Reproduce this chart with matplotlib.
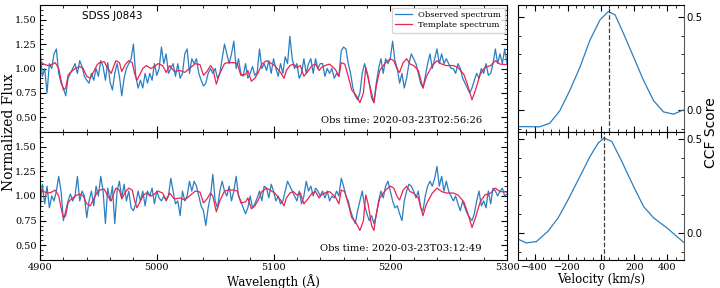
import numpy as np
import matplotlib
matplotlib.use("Agg")
import matplotlib.pyplot as plt
from matplotlib.ticker import MultipleLocator

plt.rcParams['font.family'] = ['DejaVu Serif']
plt.rcParams['mathtext.fontset'] = 'dejavuserif'

# ---------- data ----------
wave_obs = np.arange(4900, 5301, 2)

flux_obs1 = [
    1.20, 0.92, 1.00, 0.75, 1.05, 1.00, 1.15, 1.20, 0.95, 0.85,
    0.80, 0.72, 0.90, 0.95, 1.00, 1.05, 0.95, 1.08, 1.02, 0.92,
    0.88, 0.85, 0.95, 0.88, 1.00, 0.92, 1.08, 1.02, 0.88, 1.06,
    0.86, 0.78, 0.95, 1.05, 0.92, 0.72, 0.90, 1.00, 1.05, 1.10,
    1.25, 0.92, 0.80, 0.88, 0.80, 0.95, 0.85, 0.95, 0.88, 1.05,
    0.93, 1.00, 1.22, 1.05, 1.15, 0.95, 1.00, 1.05, 0.92, 1.05,
    0.90, 0.95, 1.15, 1.20, 0.95, 1.10, 1.05, 1.10, 0.95, 0.88,
    0.82, 0.85, 0.95, 1.00, 0.95, 1.00, 0.90, 0.95, 1.10, 1.25,
    1.15, 1.05, 1.15, 1.28, 1.00, 1.10, 0.95, 0.92, 1.05, 0.90,
    0.95, 1.02, 0.93, 0.96, 1.20, 1.00, 1.05, 0.98, 1.08, 0.95,
    1.10, 1.00, 0.92, 1.05, 0.95, 1.12, 1.05, 1.33, 1.10, 1.00,
    1.05, 0.90, 0.95, 1.10, 0.95, 1.05, 1.10, 0.95, 1.10, 1.00,
    1.05, 1.05, 0.92, 1.00, 0.95, 1.00, 0.90, 0.95, 0.92, 1.18,
    1.22, 1.20, 1.05, 0.95, 0.80, 0.72, 0.68, 0.75, 0.95, 1.05,
    0.95, 0.85, 0.75, 0.65, 0.85, 1.00, 1.10, 0.95, 1.10, 1.05,
    1.10, 1.28, 1.08, 1.00, 0.85, 0.95, 0.80, 0.90, 1.05, 1.15,
    1.10, 1.05, 0.95, 0.85, 0.80, 0.92, 1.05, 1.15, 1.00, 1.10,
    1.20, 1.05, 1.15, 1.05, 1.10, 1.05, 1.00, 1.00, 0.95, 1.05,
    1.00, 0.90, 0.85, 0.80, 0.75, 0.80, 0.88, 0.95, 0.90, 1.00,
    0.95, 1.05, 0.93, 0.95, 1.05, 1.20, 1.05, 1.15, 1.05, 1.20,
    1.05,
]

flux_obs2 = [
    0.85, 1.12, 0.92, 1.10, 0.88, 1.00, 0.95, 1.05, 1.20, 1.05,
    0.75, 0.85, 0.95, 1.02, 0.95, 1.00, 1.20, 0.95, 1.05, 1.00,
    0.78, 0.95, 1.05, 0.90, 1.10, 1.00, 1.20, 1.05, 0.72, 1.08,
    0.95, 1.10, 0.72, 1.05, 1.15, 0.98, 1.12, 0.95, 1.05, 0.88,
    0.85, 0.92, 1.05, 0.95, 1.05, 0.90, 1.05, 1.00, 1.08, 0.92,
    1.05, 0.98, 0.95, 1.00, 0.95, 1.00, 1.18, 1.05, 0.92, 0.95,
    0.80, 1.05, 0.95, 1.00, 1.15, 1.05, 1.15, 1.10, 1.00, 0.90,
    0.85, 0.70, 0.88, 1.00, 1.22, 0.95, 0.88, 1.05, 1.15, 1.05,
    1.00, 1.10, 0.95, 1.05, 1.20, 1.00, 0.95, 0.88, 0.82, 0.88,
    1.00, 0.88, 0.92, 0.98, 1.05, 0.95, 1.10, 1.08, 0.98, 1.12,
    1.05, 0.95, 1.00, 0.92, 0.95, 1.05, 1.15, 1.10, 1.05, 1.00,
    0.95, 1.05, 0.92, 1.00, 1.15, 1.05, 1.10, 1.00, 1.08, 1.05,
    1.00, 1.05, 0.98, 1.05, 0.95, 1.00, 0.98, 1.05, 1.00, 1.18,
    1.10, 1.00, 0.95, 0.85, 0.78, 0.72, 0.85, 0.95, 1.05, 0.90,
    0.82, 0.75, 0.80, 0.72, 0.80, 0.95, 1.05, 0.98, 1.10, 1.15,
    1.05, 0.95, 0.88, 0.90, 0.82, 0.75, 0.95, 1.05, 1.12, 1.10,
    1.05, 0.98, 1.05, 0.88, 0.85, 1.00, 1.10, 1.15, 1.10, 1.18,
    1.30, 1.10, 1.20, 1.05, 1.15, 1.05, 1.00, 0.95, 1.00, 0.92,
    0.85, 0.95, 0.88, 0.82, 0.78, 0.75, 0.82, 0.95, 1.05, 0.90,
    0.95, 0.88, 1.05, 0.92, 1.08, 1.05, 1.00, 1.05, 1.08, 1.00,
    1.02,
]

wave_tpl = [
    4900, 4904, 4907, 4910, 4913, 4916, 4918, 4920, 4922, 4924, 4926, 4930,
    4934, 4937, 4940, 4943, 4946, 4949, 4951, 4955, 4958, 4961, 4963, 4965,
    4968, 4970, 4973, 4976, 4979, 4981, 4983, 4986, 4988, 4991, 4995, 4998,
    5001, 5005, 5008, 5011, 5015, 5020, 5024, 5028, 5033, 5037, 5040, 5043,
    5046, 5048, 5051, 5054, 5058, 5061, 5066, 5069, 5072, 5076, 5078, 5081,
    5084, 5087, 5090, 5094, 5097, 5101, 5106, 5109, 5111, 5114, 5117, 5120,
    5123, 5126, 5130, 5133, 5136, 5139, 5141, 5144, 5148, 5153, 5156, 5158,
    5161, 5164, 5167, 5171, 5174, 5177, 5179, 5181, 5184, 5186, 5188, 5191,
    5196, 5200, 5203, 5206, 5208, 5211, 5214, 5217, 5220, 5224, 5228, 5231,
    5236, 5240, 5244, 5248, 5254, 5258, 5263, 5266, 5270, 5273, 5277, 5281,
    5286, 5290, 5294, 5300,
]
flux_tpl = [
    1.07, 1.04, 1.03, 1.04, 1.06, 1.00, 0.88, 0.78, 0.80, 0.93, 0.96, 1.00,
    1.02, 1.00, 0.92, 0.90, 0.97, 1.04, 1.06, 1.07, 1.00, 0.95, 1.02, 1.08,
    1.06, 0.97, 1.04, 1.08, 1.06, 0.95, 0.88, 0.95, 1.00, 1.03, 1.00, 1.02,
    1.05, 1.03, 0.96, 1.03, 0.97, 0.98, 0.96, 1.00, 1.05, 1.04, 0.93, 0.97,
    1.03, 1.00, 0.84, 0.95, 1.05, 1.06, 1.06, 1.05, 0.93, 0.94, 0.98, 0.87,
    0.90, 0.96, 1.045, 1.08, 1.06, 1.03, 0.96, 0.90, 0.98, 1.03, 1.045, 1.01,
    1.03, 0.92, 0.98, 1.03, 1.045, 0.98, 1.01, 1.03, 1.045, 0.99, 0.92, 1.06,
    1.045, 0.92, 0.78, 0.72, 0.65, 0.75, 1.01, 0.92, 0.70, 0.65, 0.82, 0.98,
    1.06, 1.10, 1.08, 0.99, 0.96, 1.06, 1.10, 1.045, 1.03, 0.98, 0.80, 0.92,
    1.03, 1.08, 1.045, 1.03, 1.03, 1.01, 0.94, 0.84, 0.68, 0.78, 0.94, 1.01,
    1.03, 1.08, 1.045, 1.04,
]

vel_ccf1 = [-496, -369, -309, -248, -188, -127, -66, -6, 44, 85, 135, 196,
            256, 317, 377, 437, 494]
ccf1 = [-0.089, -0.09, -0.071, -0.004, 0.105, 0.23, 0.377, 0.485, 0.53,
        0.512, 0.413, 0.286, 0.16, 0.05, -0.01, -0.022, 0.0]
vel_ccf2 = [-502, -450, -389, -319, -258, -198, -127, -66, -16, 18, 65, 125,
            196, 256, 317, 397, 498]
ccf2 = [-0.032, -0.053, -0.046, 0.009, 0.08, 0.177, 0.30, 0.407, 0.479,
        0.505, 0.487, 0.381, 0.248, 0.141, 0.08, 0.027, -0.05]
rv_peak = [48, 18]

obs_times = ["2020-03-23T02:56:26", "2020-03-23T03:12:49"]
target = "SDSS J0843"

# ---------- figure ----------
BLUE = "#2a7fc1"
RED = "#e8244f"
TICK_FS = 7

fig = plt.figure(figsize=(7.2, 2.88), dpi=100)
axL1 = fig.add_axes([0.0556, 0.5417, 0.6486, 0.4409])
axL2 = fig.add_axes([0.0556, 0.0972, 0.6486, 0.4445], sharex=axL1)
axR1 = fig.add_axes([0.7194, 0.5417, 0.2306, 0.4409])
axR2 = fig.add_axes([0.7194, 0.0972, 0.2306, 0.4445], sharex=axR1)

spectra = [flux_obs1, flux_obs2]
for i, ax in enumerate([axL1, axL2]):
    ax.plot(wave_obs, spectra[i], color=BLUE, lw=0.9, label="Observed spectrum")
    ax.plot(wave_tpl, flux_tpl, color=RED, lw=0.9, label="Template spectrum")
    ax.set_xlim(4900, 5300)
    ax.set_ylim(0.35, 1.65)
    ax.set_yticks([0.5, 0.75, 1.0, 1.25, 1.5])
    ax.xaxis.set_major_locator(MultipleLocator(100))
    ax.xaxis.set_minor_locator(MultipleLocator(20))
    ax.yaxis.set_minor_locator(MultipleLocator(0.05))
    ax.tick_params(which="both", direction="in", top=True, right=True,
                   labelsize=TICK_FS, pad=2.5)
    ax.tick_params(which="major", length=4)
    ax.tick_params(which="minor", length=2)
    ax.text(0.946, 0.088, "Obs time: " + obs_times[i], transform=ax.transAxes,
            ha="right", va="center", fontsize=7.2)

axL1.tick_params(labelbottom=False)
axL1.text(0.09, 0.913, target, transform=axL1.transAxes, ha="left", va="center",
          fontsize=7.5, family="DejaVu Sans")
axL1.legend(loc="upper right", fontsize=6, handlelength=2.0, borderpad=0.4,
            labelspacing=0.3, borderaxespad=0.3)
axL2.set_xlabel("Wavelength (Å)", fontsize=8.6, labelpad=1)
fig.text(0.012, 0.54, "Normalized Flux", rotation=90, ha="center", va="center",
         fontsize=10)

ccfs = [(vel_ccf1, ccf1), (vel_ccf2, ccf2)]
ylims = [(-0.118, 0.565), (-0.144, 0.537)]
for i, ax in enumerate([axR1, axR2]):
    v, c = ccfs[i]
    ax.plot(v, c, color=BLUE, lw=0.9)
    ax.axvline(rv_peak[i], color="0.25", ls="--", lw=0.9)
    ax.set_xlim(-500, 500)
    ax.set_ylim(*ylims[i])
    ax.set_yticks([0.0, 0.5])
    ax.yaxis.set_minor_locator(MultipleLocator(0.1))
    ax.xaxis.set_major_locator(MultipleLocator(200))
    ax.xaxis.set_minor_locator(MultipleLocator(50))
    ax.tick_params(which="both", direction="in", top=True, left=True, right=True,
                   labelleft=False, labelright=True, labelsize=TICK_FS, pad=2)
    ax.tick_params(which="major", length=4)
    ax.tick_params(which="minor", length=2)
    ax.spines["right"].set_color("0.35")
    for lbl in ax.get_yticklabels():
        lbl.set_family("DejaVu Sans")
        lbl.set_fontsize(7.3)

axR1.tick_params(labelbottom=False)
axR2.set_xlabel("Velocity (km/s)", fontsize=8.5, labelpad=1)
fig.text(0.987, 0.54, "CCF Score", rotation=90, ha="center", va="center",
         fontsize=10, family="DejaVu Sans")

fig.savefig("out.png", dpi=100)
